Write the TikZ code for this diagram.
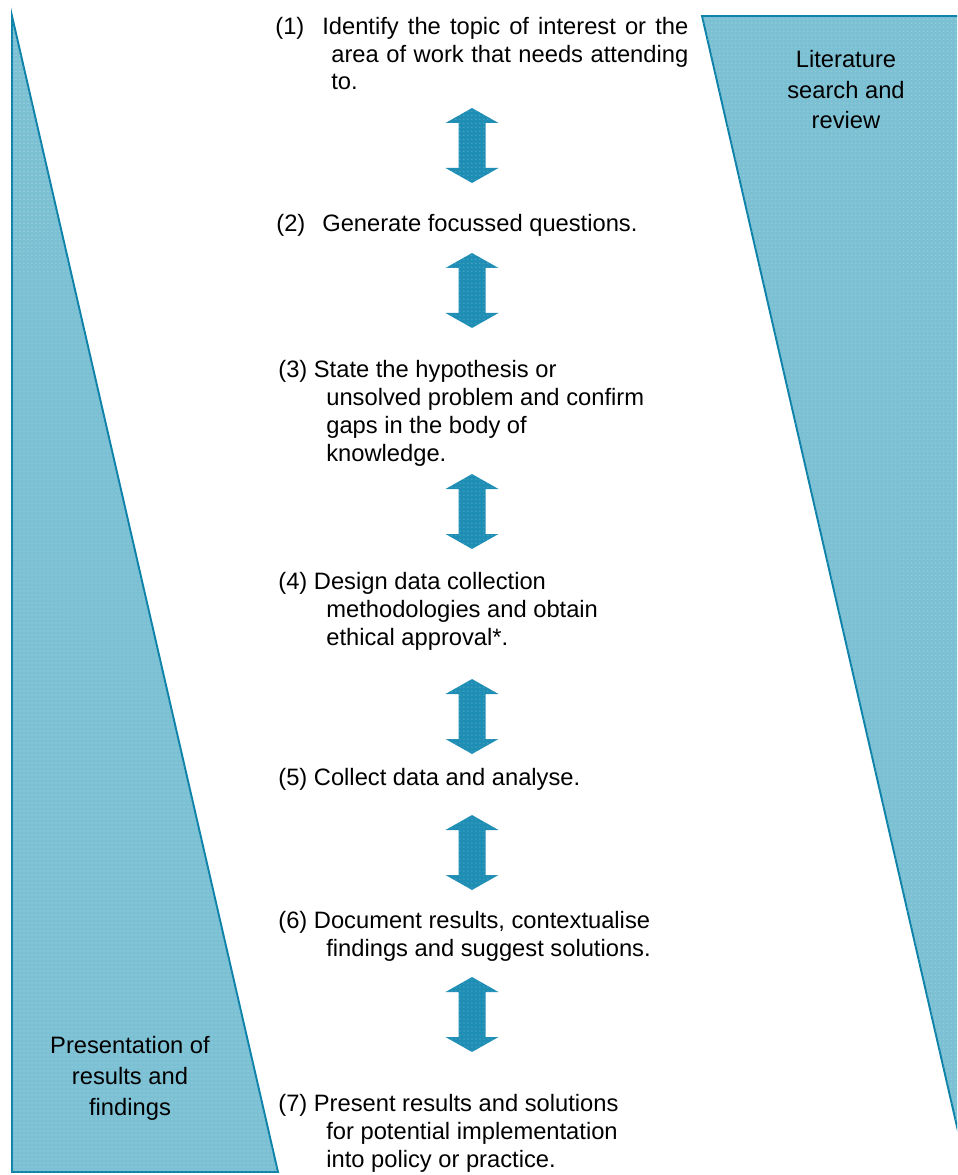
\documentclass[tikz,border=0pt]{standalone}
\usepackage{fontspec}
\setmainfont{Liberation Sans}
\usepackage{tikz}
\usetikzlibrary{patterns.meta}
\definecolor{sidefill}{RGB}{124,192,212}
\definecolor{sideline}{RGB}{14,130,168}
\definecolor{arrowfill}{RGB}{30,142,180}
\tikzstyle{dotty} = [postaction={pattern={Dots[distance=0.08cm,radius=0.2pt]},pattern color=white}]
\tikzstyle{side} = [fill=sidefill,draw=sideline,line width=1.1pt,dotty]
\tikzstyle{stepnode} = [anchor=base west,align=left,inner sep=0pt,font=\fontsize{13.5}{15.93}\selectfont]
\tikzstyle{sidelabel} = [anchor=base,align=center,inner sep=0pt,font=\fontsize{13.5}{17.6}\selectfont]
\newcommand{\stepind}{\hspace*{0.96cm}}
\newcommand{\updown}[2]{\fill[arrowfill,dotty,shift={(#1,#2)}](0,-37.5)--(26.5,-22.5)--(13.5,-22.5)--(13.5,22.5)--(26.5,22.5)--(0,37.5)--(-26.5,22.5)--(-13.5,22.5)--(-13.5,-22.5)--(-26.5,-22.5)--cycle;}

\begin{document}
\begin{tikzpicture}[x=0.02cm,y=-0.02cm]
      \useasboundingbox(0,0)rectangle(957,1175);
      \clip(0,0)rectangle(957,1175);
      % the two wedges (base anchor = last line)
      \draw[side](12,16)--(278,1172)--(12,1172)--cycle;
      \draw[side](702,16)--(1000,16)--(1000,1314)--cycle;
      \node[sidelabel](lit)at(846,129){Literature\\search and\\review};
      \node[sidelabel](pres)at(130,1115){Presentation of\\results and\\findings};
      % the steps
      \node[stepnode](s1)at(275,90){\makebox[0.94cm][l]{(1)}\makebox[7.32cm][s]{Identify the topic of interest or the}\\
        \hspace*{1.12cm}\makebox[7.14cm][s]{area of work that needs attending}\\\hspace*{1.12cm}to.};
      \node[stepnode](s2)at(276,232){\makebox[0.92cm][l]{(2)}Generate focussed questions.};
      \node[stepnode](s3)at(278,461){(3) State the hypothesis or\\\stepind unsolved problem and confirm\\\stepind gaps in the body of\\\stepind knowledge.};
      \node[stepnode](s4)at(278,645){(4) Design data collection\\\stepind methodologies and obtain\\\stepind ethical approval*.};
      \node[stepnode](s5)at(278,785){(5) Collect data and analyse.};
      \node[stepnode](s6)at(278,956){(6) Document results, contextualise\\\stepind findings and suggest solutions.};
      \node[stepnode](s7)at(278,1167){(7) Present results and solutions\\\stepind for potential implementation\\\stepind into policy or practice.};
      % double arrows between the steps
      \updown{472}{145.5}
      \updown{472}{290.5}
      \updown{472}{511.5}
      \updown{472}{716.5}
      \updown{472}{852.5}
      \updown{472}{1014.5}
    \end{tikzpicture}
\end{document}
